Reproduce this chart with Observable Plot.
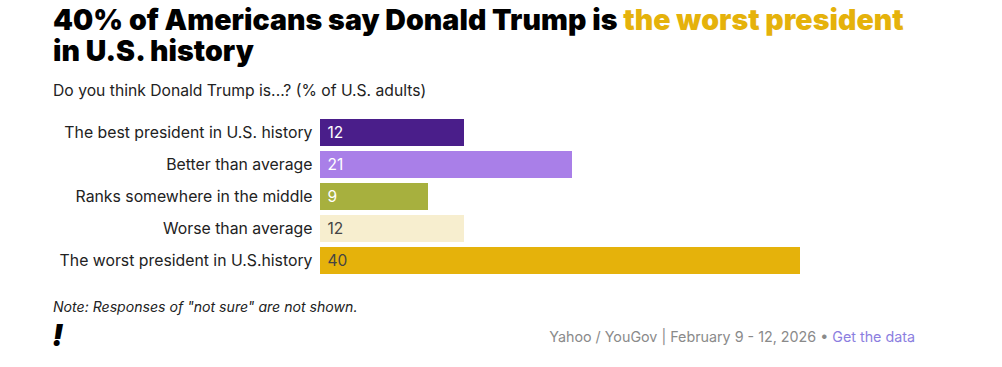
<!DOCTYPE html>
<html>
<head>
<meta charset="utf-8">
<script src="https://cdn.jsdelivr.net/npm/d3@7"></script>
<script src="https://cdn.jsdelivr.net/npm/@observablehq/plot@0.6"></script>
<style>
  html, body { margin: 0; padding: 0; background: #fff; }
  #wrap { position: relative; width: 1002px; height: 367px; overflow: hidden; font-family: Inter, "Noto Sans", sans-serif; color: #1a1a1a; }
  #title { position: absolute; left: 53px; top: 4px; width: 940px; font-size: 28.5px; font-weight: 900; line-height: 31px; letter-spacing: 0.05px; color: #000; white-space: nowrap; }
  #title .hl { color: #e5b20b; }
  #subtitle { position: absolute; left: 53px; top: 81px; font-size: 15.7px; color: #222; }
  #chart { position: absolute; left: 0; top: 110px; }
  #note { position: absolute; left: 53px; top: 298px; font-size: 14.1px; font-style: italic; color: #222; }
  #logo { position: absolute; left: 52px; top: 318px; font-size: 30px; font-weight: 900; font-style: italic; color: #000; line-height: 34px; }
  #source { position: absolute; right: 87px; top: 328px; font-size: 14.3px; color: #8a8a8a; }
  #source a { color: #8b7ee0; text-decoration: none; }
</style>
</head>
<body>
<div id="wrap">
  <div id="title">40% of Americans say Donald Trump is <span class="hl">the worst president</span><br>in U.S. history</div>
  <div id="subtitle">Do you think Donald Trump is...? (% of U.S. adults)</div>
  <div id="chart"></div>
  <div id="note">Note: Responses of "not sure" are not shown.</div>
  <div id="logo">!</div>
  <div id="source">Yahoo / YouGov | February 9 - 12, 2026 • <a href="#">Get the data</a></div>
</div>
<script>
const categories = [
  "The best president in U.S. history",
  "Better than average",
  "Ranks somewhere in the middle",
  "Worse than average",
  "The worst president in U.S.history"
];
const values = [12, 21, 9, 12, 40];
const barColors = ["#4a1e8a", "#a97fe8", "#a7b03e", "#f7eecf", "#e5b20b"];
const labelColors = ["#ffffff", "#ffffff", "#ffffff", "#444444", "#444444"];

const data = categories.map((c, i) => ({category: c, value: values[i], color: barColors[i], textColor: labelColors[i]}));

const chart = Plot.plot({
  width: 1002,
  height: 171,
  marginLeft: 320,
  marginRight: 202,
  marginTop: 5,
  marginBottom: 4,
  style: {fontFamily: "Inter, 'Noto Sans', sans-serif", fontSize: "15.8px", color: "#222"},
  x: {domain: [0, 40], axis: null},
  y: {domain: categories, paddingInner: 0.17, paddingOuter: 0.085, label: null, tickSize: 0, tickPadding: 8},
  marks: [
    Plot.barX(data, {x: "value", y: "category", fill: "color"}),
    Plot.text(data, {x: 0, y: "category", text: d => String(d.value), fill: "textColor", textAnchor: "start", dx: 7, fontSize: 15.5}),
    Plot.axisY({tickSize: 0, tickPadding: 8, fontSize: 15.8, fill: "#222"})
  ]
});
document.getElementById("chart").appendChild(chart);
</script>
</body>
</html>
